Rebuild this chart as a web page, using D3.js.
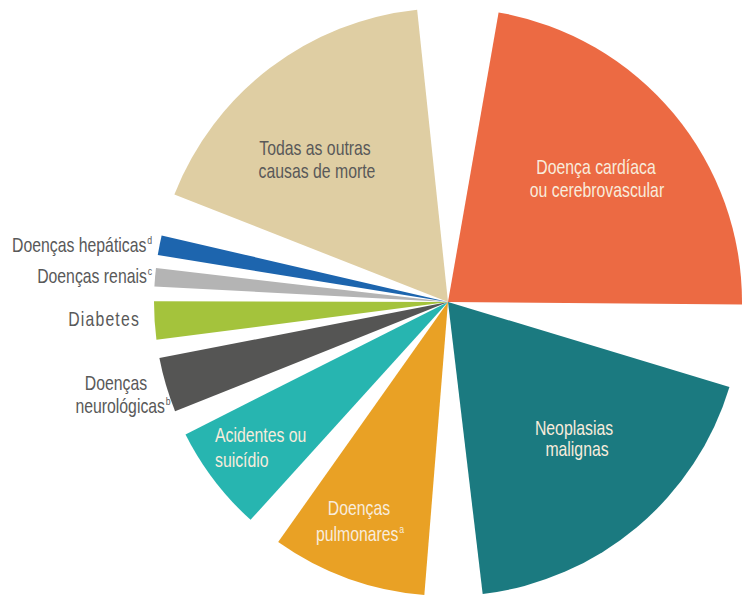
<!DOCTYPE html>
<html>
<head>
<meta charset="utf-8">
<script src="https://cdn.jsdelivr.net/npm/d3@7/dist/d3.min.js"></script>
<style>
  html, body { margin: 0; padding: 0; background: #ffffff; }
  svg { display: block; }
  text { font-family: "Liberation Sans", Arial, sans-serif; }
</style>
</head>
<body>
<svg id="chart" width="742" height="596"></svg>
<script>
// Causes of death, share of total (%), clockwise from the top
const causes = [
  "Doença cardíaca ou cerebrovascular",
  "Neoplasias malignas",
  "Doenças pulmonares",
  "Acidentes ou suicídio",
  "Doenças neurológicas",
  "Diabetes",
  "Doenças renais",
  "Doenças hepáticas",
  "Todas as outras causas de morte"
];
const shares = [27.3, 22.6, 10.7, 7.5, 4.1, 3.0, 1.7, 1.8, 21.3];
const colors = ["#ec6a43", "#1b7a80", "#e9a125", "#27b5b0", "#555554", "#a4c33c", "#b4b4b4", "#1d65ae", "#dfcea3"];

// Label lines per cause: text, optional superscript note
const labelLines = [
  [["Doença cardíaca"], ["ou cerebrovascular"]],
  [["Neoplasias"], ["malignas"]],
  [["Doenças"], ["pulmonares", "a"]],
  [["Acidentes ou"], ["suicídio"]],
  [["Doenças"], ["neurológicas", "b"]],
  [["Diabetes"]],
  [["Doenças renais", "c"]],
  [["Doenças hepáticas", "d"]],
  [["Todas as outras"], ["causas de morte"]]
];

// Layout
const cx = 448, cy = 302, R = 294;
const shrink = 0.835;                 // fraction of each share's angle that is filled
const pad = 1.5 * Math.PI / 180;      // extra angular gap between slices
const start = 1.05 * Math.PI / 180;
const fontSize = 20, narrow = 0.79;   // condensed lettering

const light = "#f8ecdc", dark = "#595959";
// label placement relative to the pie centre: [x, y, anchor] per line
const labelLayout = [
  { fill: light, lines: [[148, -128, "middle"], [149, -105, "middle"]] },
  { fill: light, lines: [[126, 133, "middle"], [129, 154, "middle"]] },
  { fill: light, lines: [[-89, 213, "middle"], [-88, 239, "middle"]] },
  { fill: light, lines: [[-233, 140, "start"], [-233, 165, "start"]] },
  { fill: dark,  lines: [[-332, 88, "middle"], [-325, 111, "middle"]] },
  { fill: dark,  spacing: 1.5, lines: [[-308, 24, "end"]] },
  { fill: dark,  lines: [[-296, -19, "end"]] },
  { fill: dark,  lines: [[-296, -50, "end"]] },
  { fill: dark,  lines: [[-133, -147, "middle"], [-131, -124, "middle"]] }
];

const svg = d3.select("#chart");
const g = svg.append("g").attr("transform", `translate(${cx},${cy})`);

const pie = d3.pie().sort(null).value(d => d)
  .startAngle(start).endAngle(start + 2 * Math.PI);
const arc = d3.arc().innerRadius(0).outerRadius(R);

const slices = pie(shares).map((d, i) => {
  const mid = (d.startAngle + d.endAngle) / 2;
  const half = (shrink * (d.endAngle - d.startAngle) - pad) / 2;
  return { i, startAngle: mid - half, endAngle: mid + half };
});

g.selectAll("path.slice")
  .data(slices)
  .join("path")
  .attr("class", "slice")
  .attr("d", arc)
  .attr("fill", d => colors[d.i]);

// Labels
labelLines.forEach((lines, i) => {
  const lay = labelLayout[i];
  const grp = g.append("g").attr("class", "label").attr("aria-label", causes[i]);
  lines.forEach((ln, j) => {
    const [x, y, anchor] = lay.lines[j];
    const line = grp.append("text")
      .attr("transform", `translate(${x},${y}) scale(${narrow},1)`)
      .attr("text-anchor", anchor)
      .attr("fill", lay.fill)
      .attr("font-size", fontSize)
      .attr("letter-spacing", lay.spacing || 0)
      .text(ln[0]);
    if (ln[1]) {
      line.append("tspan")
        .attr("font-size", 11)
        .attr("dy", -8)
        .attr("dx", 1)
        .text(ln[1]);
    }
  });
});
</script>
</body>
</html>
